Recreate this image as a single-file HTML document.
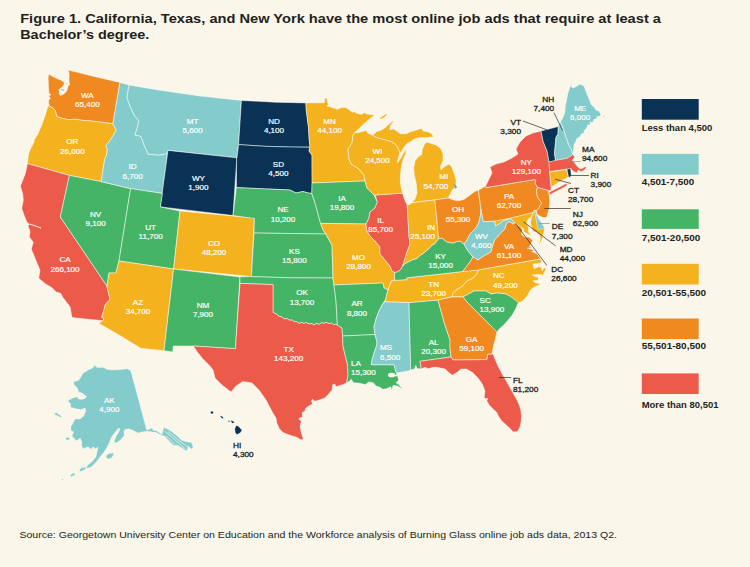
<!DOCTYPE html>
<html><head><meta charset="utf-8"><title>Figure 1</title>
<style>
html,body{margin:0;padding:0;background:#FAF6EA;}
body{width:750px;height:567px;overflow:hidden;position:relative;font-family:"Liberation Sans",sans-serif;}
svg{position:absolute;left:0;top:0;}
.st{stroke:#fff;stroke-width:0.5;stroke-linejoin:round;}
.wl{fill:#fff;stroke:#fff;stroke-width:0.16px;font-weight:normal;font-size:6.75px;font-family:"Liberation Sans",sans-serif;}
.dl{fill:#231f20;stroke:#231f20;stroke-width:0.28px;font-weight:normal;font-size:6.9px;font-family:"Liberation Sans",sans-serif;}
.ttl{fill:#231f20;font-weight:bold;font-size:12.9px;font-family:"Liberation Sans",sans-serif;}
.src{fill:#231f20;font-size:9.9px;font-family:"Liberation Sans",sans-serif;}
.lg{fill:#231f20;font-weight:bold;font-size:8.8px;font-family:"Liberation Sans",sans-serif;}
</style></head><body>
<svg width="750" height="567" viewBox="0 0 750 567">
<rect width="750" height="567" fill="#FAF6EA"/>
<text class="ttl" x="20.2" y="23.3" textLength="640.8" lengthAdjust="spacingAndGlyphs">Figure 1. California, Texas, and New York have the most online job ads that require at least a</text>
<text class="ttl" x="20.2" y="39.3" textLength="129.2" lengthAdjust="spacingAndGlyphs">Bachelor’s degree.</text>
<g class="st">
<polygon fill="#F08A20" points="48.5,73.9 51.9,76 56.9,78.5 61.2,80.2 64.2,82.3 64.2,84 62.9,86.6 60.3,88.3 58.6,90 59.5,91.2 59.1,93.8 60.3,95.5 62.9,94.6 65.4,92.5 67.1,90 68,85.7 69.7,84.9 68.8,79.8 69.2,74.7 68.4,70.1 94,76.4 120,82.4 112.9,123.8 102,122.3 91.3,121 82,120.3 75.3,119.2 68.7,119.7 62,118.3 56.7,116.3 55.3,110.3 52.7,107.7 48,105.7 49.3,105.2 48.5,103.5 48.9,99.3 50.6,98.4 48.5,95.9 51,94.6 48.9,93.4 48.5,87.4 48.1,79"/>
<polygon fill="#F4B21E" points="48,105.7 52.7,107.7 55.3,110.3 56.7,116.3 62,118.3 68.7,119.7 75.3,119.2 82,120.3 91.3,121 102,122.3 112.9,123.8 116.2,130.3 112.7,136.3 108.7,142.3 106,145.7 107.3,149.7 106.7,155 104.7,159 101.2,181.6 69.4,175.4 27.4,163.6 28,158 28.7,153.7 30.7,148.3 34.3,141.5 34,140.3 38,133.7 42,124.3 45.3,115"/>
<polygon fill="#EC5A4A" points="27.4,163.6 69.4,175.4 60.3,217 107,286 107.3,288 110,299.3 105.3,304.7 103.3,312 101.7,317.3 104,318.7 102.7,320.7 72,317.6 71.3,314 70,306.7 62.7,297.3 60.7,293.3 56,292 52,287.7 45.3,283.7 38.7,278.3 40,270.3 37.3,263.7 34,255.7 31.3,249 33.3,242.3 29.3,237 30,231.7 28,226 29.5,224.5 26.7,221.7 24,215 21.7,208.3 23.3,200.3 22.7,193.7 20.4,186.3 22.7,180.3 25.3,173.7"/>
<polygon fill="#46B466" points="69.4,175.4 101.2,181.6 130.6,188.6 119,261 116,273 109,273 107,286 60.3,217"/>
<polygon fill="#84CCCB" points="120,82.4 129,85 127,97.7 130.3,107 135,116.3 139,121 137,128.3 135,135 141,136.3 143.7,144.3 146.3,149.7 148,154 158,155 164,154.5 167.6,152.5 162.4,193.4 130.6,188.6 101.2,181.6 104.7,159 106.7,155 107.3,149.7 106,145.7 108.7,142.3 112.7,136.3 116.2,130.3 112.9,123.8"/>
<polygon fill="#84CCCB" points="129,85 160,90.2 200,96 241.4,100.4 238.6,144.6 237,157.8 168,150.4 167.6,152.5 164,154.5 158,155 148,154 146.3,149.7 143.7,144.3 141,136.3 135,135 137,128.3 139,121 135,116.3 130.3,107 127,97.7"/>
<polygon fill="#0A3254" points="168,150.4 236.8,157.8 233,215.5 160.3,206.9"/>
<polygon fill="#46B466" points="130.6,188.6 162.4,193.4 160.3,206.9 180,211 173.6,269 119,261"/>
<polygon fill="#F4B21E" points="180,211 254.4,218 251.4,276.6 173.6,269"/>
<polygon fill="#F4B21E" points="119,261 173.6,269 164,350.7 140.7,348.3 120.7,336 98.7,323.3 102.7,320.7 104,318.7 101.7,317.3 103.3,312 105.3,304.7 110,299.3 107.3,288 107,286 109,273 116,273"/>
<polygon fill="#46B466" points="173.6,269 240,277 235.4,348.7 193.3,346 173.3,346 172.7,352 164,350.7"/>
<polygon fill="#0A3254" points="241.4,100.4 275,102.2 305.8,102.9 306.4,111.3 307.5,119.9 308.5,127.3 309.1,138 310,147.2 290,147 265,146.3 238.6,144.6"/>
<polygon fill="#0A3254" points="238.6,144.6 265,146.3 290,147 310,147.2 309,151 312,155 312.3,182.5 311.8,193.5 308,192.9 303,191.5 296,193 290,190 236.4,187.6 236.6,158 237,157.8"/>
<polygon fill="#46B466" points="236.4,187.6 290,190 296,193 303,191.5 308,192.9 311.8,193.5 314.1,200 316.7,208.8 318.5,215.8 320.6,223.4 323,230 326,234 254,233 254.4,218.4 233,215.6"/>
<polygon fill="#46B466" points="254,233 326,234 329,240 332,245 333,278 290,277.8 251.4,276.6"/>
<polygon fill="#46B466" points="240,276.8 251.4,276.6 290,277.8 333,278 334,285 336,301 337.4,325 335.5,324.2 333.6,324.8 331.5,323 329,323.6 326.5,322.4 324,323.4 321.5,322.8 319,324.4 316.5,323.4 314,325 311.5,323.6 309,324.2 306.5,322.4 304,323.6 301.5,322.4 299,323.6 296.5,321.6 294,321.6 292,320 289.5,320.2 287,318.6 284,318.8 281.5,316.6 279,316.4 276.5,314.2 273,312.4 273,284.6 240,283.4"/>
<polygon fill="#EC5A4A" points="240,283.4 273,284.6 273,312.4 276.5,314.2 279,316.4 281.5,316.6 284,318.8 287,318.6 289.5,320.2 292,320 294,321.6 296.5,321.6 299,323.6 301.5,322.4 304,323.6 306.5,322.4 309,324.2 311.5,323.6 314,325 316.5,323.4 319,324.4 321.5,322.8 324,323.4 326.5,322.4 329,323.6 331.5,323 333.6,324.8 335.5,324.2 337.4,325 342,328 342.6,336 343,346 344.7,353.3 347.3,364 348,374.7 346.7,382.7 342.7,384.7 336,386.7 334.7,384 332.7,384.7 332,390 328.7,394 324.7,398 319.3,400 314.7,401.3 312.7,399.3 311.3,401.3 312.7,404 308.7,406 305.3,408.7 305.3,410.7 302,412.7 302.7,416.7 298.7,418.7 301.3,421.3 300,426 301.3,432.7 303.3,439.3 301.3,440 296.7,437.3 290,435.3 283.3,432.7 279.3,428.7 276.7,422.7 276,418 272.7,412.7 266,400 259,390 252,383 243,381.4 236,386 231,392 222,385 215,378 213,370 209.3,365.3 202.7,358.7 197.3,352 193.3,346 235.4,348.7"/>
<polygon fill="#F4B21E" points="305.8,102.9 324.5,102.8 324.7,98.3 326.7,98 328.3,104.9 326.9,106 330.9,107.1 337.3,109.2 341.6,107.6 345.9,107.6 349.1,109.7 352.3,112.4 353.3,111.3 357.6,113.5 361.9,114.5 364.5,112.4 366.7,114 374.9,115 370.4,118.3 366.1,122 361.9,125.7 358.1,129.5 354.4,132.7 353.7,134.6 353,135 352,143 348,149 349,159 351,164 359,169 364,175 365,181 312,183 312,155 309,151 310,147.2 309.1,138 308.5,127.3 307.5,119.9 306.4,111.3"/>
<polygon fill="#46B466" points="312,183 365,181 367,188 374,195 377.4,202 375,208 370,212 369,218 366,224 320.6,223.4 318.5,215.8 316.7,208.8 314.1,200 311.8,193.5"/>
<polygon fill="#F4B21E" points="320.6,223.4 366,224 366.6,230 370,236 375,241 380,247 380,254 385,260 390,266 392,271 394.5,272.4 394.7,280.4 391.3,281.3 388,290 384,288 383,283 334,285 333,278 332,245 329,240 326,234 323,230"/>
<polygon fill="#46B466" points="334,285 383,283 384,288 388,290 385.6,299.3 382,305 379,311 376,319 374,327 375,334.5 342.6,336 342,328 337.4,325 336,301"/>
<polygon fill="#46B466" points="342.6,336 375,334.5 377,342 376.7,345.3 374,353.3 372,360 371.3,364.7 394,364.7 396,372 396.5,373 398,377.3 398.7,380 396,382.7 398.7,384.7 403.3,389.3 397.3,386 393.3,385.3 391.3,390 390.7,386.7 386.7,388.7 382.7,389.3 380,387.3 376,386 373.3,382.7 368.7,382 365.3,384.7 360,383.3 353.3,382.7 351.3,379.3 349,381.5 346.7,382.7 348,374.7 347.3,364 344.7,353.3 343,346"/>
<polygon fill="#84CCCB" points="385.3,301.6 409,302.5 410.6,365 410.7,370 409.3,370.7 402.7,372 396.5,373 396,372 394,364.7 371.3,364.7 372,360 374,353.3 376.7,345.3 377,342 375,334.5 374,327 376,319 379,311 382,305"/>
<polygon fill="#46B466" points="409,302.5 438,300 444,322 450,340 450,348 451,357 420,361.3 421.3,368.7 417.3,368.7 415.7,365.3 414.7,368.7 410.7,370 410.6,365"/>
<polygon fill="#F4B21E" points="391.3,281.3 394.7,280.4 406.7,279.6 406.7,277.8 445,273.6 462.7,271.5 478.7,270 476,275.3 472,278.7 466.7,281.3 462.7,286 457.3,289.3 453.3,292.7 452,296.7 438,300 409,302.5 385.3,301.6 385.6,299.3 388,290"/>
<polygon fill="#46B466" points="394.5,272.4 397.3,271.8 400.5,269.6 402.6,266 405,263.5 409,261.5 413,259.5 417,258.5 420,255.5 423,253.5 426,251 429,248.5 432,245 435,243.5 438.6,238.5 442,238 445,240.5 447,242 453,243 457,241.5 460,241 464,244 465,246 468,251 473,257 470,262 462.7,271.5 445,273.6 406.7,277.8 406.7,279.6 394.7,280.4"/>
<polygon fill="#EC5A4A" points="375,195 402.5,193.2 404.6,199.7 407.2,205 409,236 410,244 407,252 404.6,260 402.6,266 400.5,269.6 397.3,271.8 394.5,272.4 392,271 390,266 385,260 380,254 380,247 375,241 370,236 366.6,230 366,224 369,218 370,212 375,208 377.4,202"/>
<polygon fill="#F4B21E" points="353.7,134.6 354.4,132.7 357.6,132.7 364,131.1 366.7,130.3 367.7,133.2 372.4,135 377,137.7 385,139.7 391.7,141.7 396.3,145 399,149.7 399.7,153.7 398.3,158.3 397.4,162.8 401,157.7 404.3,151.7 406.4,148.4 405.7,153.7 403.7,158.3 402,163.7 401,169 400.5,175 400.3,180.7 400.9,186 402.5,193.2 375,195 374,195 367,188 365,181 364,175 359,169 351,164 349,159 348,149 352,143 353,135"/>
<polygon fill="#F4B21E" points="372.4,135 374.7,133.5 376.3,131.7 381,130.3 385,127.7 388,125 392.6,121 393.4,121.6 390.5,125.5 389.7,129.7 393.7,129 397.7,131.7 400.3,133.7 406.3,133.7 410.3,131.7 415.7,130.3 421.7,128.3 423,131 427.7,131.7 431.7,133.7 433.7,137 430.3,137 425,137.7 419.7,137.7 414.3,139 411,141.7 407.7,143 405.7,145 403.7,147.7 401.7,151 399.7,153.7 399,149.7 396.3,145 391.7,141.7 385,139.7 377,137.7 372.4,135"/>
<polygon fill="#F4B21E" points="426.3,142 431,143.3 436.3,145.3 441,148.7 443,154 443,160.7 440.3,166.7 441,170 444.3,166.7 449,164 451.7,166.7 454.3,174 456.3,180.7 455.7,186 452.3,190 450.3,194 448.3,198 434.3,200 411.7,202.7 415,199.3 417,192.7 416.3,183.3 414.3,175.3 413.7,168.7 415,160.7 419,156 421.7,154.7 422.3,149.3 424.3,144.7"/>
<polygon fill="#F4B21E" points="379.8,118.2 383,115.8 386.4,113.8 387.2,115 383.8,117.8 380.6,119.6"/>
<polygon fill="#F4B21E" points="407.2,205 409.9,204.5 411.7,202.7 434.3,200 435,201 438.6,238.5 435,243.5 432,245 429,248.5 426,251 423,253.5 420,255.5 417,258.5 413,259.5 409,261.5 405,263.5 402.6,266 404.6,260 407,252 410,244 409,236"/>
<polygon fill="#F08A20" points="435,201 434.3,200 448.3,198 453.7,200 459,200.7 464.3,199.3 469.7,195.3 475,191.3 478.4,190.2 480.9,209.4 480.7,213.8 479.7,219.1 478.3,224 475,229 470,234 467,240 464,244 460,241 457,241.5 453,243 447,242 445,240.5 442,238 438.6,238.5"/>
<polygon fill="#F08A20" points="478.4,190.2 485.7,186 486,187.6 510,183.6 535,179.5 536,180.5 535,183 537.5,187.2 536.5,191 537,195 538,198 540,200.5 542,203.5 540.3,205 538.7,208.6 536.3,210.3 534.3,210.3 533.2,212.5 511,218.1 494.5,221.2 483.2,221.8 480.9,209"/>
<polygon fill="#F08A20" stroke-width="0.5" points="537.5,187.2 548.5,190.5 549,194 549.5,198 549.8,201 549.4,205 549,209 547.9,212.9 547.1,216.5 545.5,217.7 542.3,217.3 539.1,215.7 536.7,213.7 536.3,210.3 538.7,208.6 540.3,205 542,203.5 540,200.5 538,198 537,195 536.5,191"/>
<polygon fill="#EC5A4A" points="541,131 533,133 526,136 520,142 516,149 518,154 512,158 504,162 496,164 490,167 492,173 489,179 485.7,186 486,187.6 510,183.6 535,179.5 536,180.5 535,183 537.5,187.2 548.5,190.5 550.5,191 551.2,187.5 550.5,180 549.6,171.5 549,162 547,151 543,141"/>
<polygon fill="#EC5A4A" points="549.3,192.2 555,189.2 561,186.2 564.5,184.2 567.3,183.6 567,185.6 562,188.4 556,191.4 549.3,195"/>
<polygon fill="#0A3254" stroke-width="0.5" points="541,131 558.4,126.5 558,134 556,137.3 555.3,145 554.5,153 555.5,160.5 549,162 547,151 543,141"/>
<polygon fill="#84CCCB" stroke-width="0.5" points="558.4,126.5 560.5,121.3 563.3,128.7 566,136.7 568.7,144.7 571.5,150 573,154.5 571,156 567,158.5 555.5,160.5 554.5,153 555.3,145 556,137.3 558,134"/>
<polygon fill="#84CCCB" points="560.5,121.3 562.7,118 564.7,112.7 565.3,106 566.7,99.3 568,92.7 570.7,85.3 572.7,88 576,86.7 580,84 584,86 586,91.3 588.7,98 591.3,104.7 594,106.7 596,110 599.3,111.3 600.9,114.7 600,116.2 596.7,116.7 597.3,118.7 594,119.3 592.7,122.7 590,122 590.7,125.3 588,124.7 586.7,128 584,130.7 584.7,132.7 581.3,134 580,136.7 576.7,138.7 576,141.3 574,144.7 573.5,150 573,154.5 571.5,150 568.7,144.7 566,136.7 563.3,128.7"/>
<polygon fill="#EC5A4A" stroke-width="0.3" points="549,162 555.5,160.5 567,158.5 571,156 573,154.5 574,156 574.5,157.5 572,160 574,162 576,165 579,168.2 581,169 585.2,166.8 586.2,167.8 583.5,170.6 580.5,171.8 579.6,170.6 578,170 577,172.4 574,171.8 572,170 571,168.5 567,169 549.6,171.5"/>
<polygon fill="#F4B21E" stroke-width="0.5" points="549.7,172 566.5,169.5 568.5,177 563,180 557.5,183 553,186 551.2,187.5 550.5,180"/>
<polygon fill="#F4B21E" stroke-width="0.35" points="494.5,221.2 505,219.3 511,218.1 533.2,212.5 532.4,213.7 531.2,216.9 528.8,218.5 527.2,220.5 526.6,223.5 528,226.4 528.8,228.8 528,230.4 528.8,232.8 531.2,235.6 528.8,234.8 525.6,232.8 523.7,231.6 523.7,228.8 520.9,226.8 516.9,224.8 514.5,222.9 512.9,220.9 511,218.8 505.5,219.9 503,221 500,223.5 495.5,226"/>
<polygon fill="#F4B21E" stroke-width="0.35" points="533.2,212.5 534.3,210.3 536,218 537.9,229.2 544.5,228.4 543.6,233 541.8,239.7 540.6,242.5 538.9,244.9 540.6,238.5 539.7,234.9 537.1,232.7 532.7,231.3 532.2,228.2 530.5,223.4 531.2,219.3 532.4,215.3"/>
<polygon fill="#84CCCB" points="480.9,209 483.2,221.8 494.5,221.2 495.5,226 500,223.5 503,221 505.5,219.9 511,218.8 512.9,220.9 514.5,222.9 512.9,224 511.3,222.9 509,221.7 507,222.9 505.8,225.6 505,228.8 501,233 497.5,237 495,239 493,245 491,252 484,256 478,260 473,257 468,251 465,246 464,244 467,240 470,234 475,229 478.3,224 479.7,219.1 480.7,213.8"/>
<polygon fill="#F08A20" points="514.5,222.9 516.9,224.8 520.9,226.8 522.5,230.4 521.2,234 524.7,237.1 529.1,237.1 532.7,240.6 530.9,244.1 529.3,246.6 532.4,247.6 527.5,248.3 532,249.6 535.3,250.3 531.8,251.6 537.1,253.8 539.7,257.4 540.6,259 478.7,270 462.7,271.5 470,262 473,257 478,260 484,256 491,252 493,245 495,239 497.5,237 501,233 505,228.8 505.8,225.6 507,222.9 509,221.7 511.3,222.9 512.9,224"/>
<polygon fill="#F4B21E" points="478.7,270 540.6,259 541.6,261.8 540.4,262.9 536.5,263.4 533.3,264.1 533.4,266.5 534.4,268.5 536.5,267.5 538.5,266.7 541,267 541.9,268.3 542.2,270.8 543.5,268.3 545.3,267.7 545.9,269.5 544.7,271.7 543.8,273.5 542.8,275.4 540.4,274.5 536,274.6 532.3,275 535,276.6 537.9,277 538.5,278.5 537.9,280.2 535.5,280.4 533.1,281 535,282.5 536.7,283 540.4,283.4 538.5,285.2 535.4,286.5 532.3,288.6 530.5,290 527.1,296.3 521.6,301.8 518.4,302.6 506,294 497,293 491,294 486,291 474,291 463,297 452,296.7 453.3,292.7 457.3,289.3 462.7,286 466.7,281.3 472,278.7 476,275.3"/>
<polygon fill="#46B466" points="463,297 474,291 486,291 491,294 497,293 506,294 511.3,297.1 518.4,302.6 515.2,309.8 512.1,315.3 508.1,320.1 504.1,324.8 499.4,328.8 496.6,332.8 489,324 482,317 474,309 467,302"/>
<polygon fill="#F08A20" points="438,300 452,297 463,297 467,302 474,309 482,317 489,324 497,332 495,340 493,348 492,354 487.6,354.4 487,359.6 453,360 451,357 450,348 450,340 444,322"/>
<polygon fill="#EC5A4A" points="420,361.3 451,357 453,360 487,359.6 487.6,354.4 493,354 495.5,360 498.2,366.5 502.5,374.5 507,382.3 510.5,388.5 514,394.7 517,400 519.4,405.3 520.9,410.5 521.5,415.8 521.2,421 520.2,426.4 518.8,429.6 516.7,431.7 513.2,431.9 507.9,426.4 501.7,421.1 498.2,415.8 496.8,412.5 493.8,409.7 489.4,405.3 486.7,400.8 487.8,398.4 485.6,398.8 484.1,397.3 485,391.1 482.3,384.1 477.9,377.9 472.6,372.6 466.5,369.1 461.2,369.1 456.8,372.6 452.3,375.3 448.8,372.6 445.3,369.1 440,368 437,367.3 433.3,367.3 428,368.7 425.3,367.3 421.3,368.7"/>
<polygon fill="#84CCCB" stroke-width="0.25" points="94.8,365.3 96.9,367.5 103.3,367.5 107.6,369.6 114,370.1 122.5,369.6 127,368.8 130.7,370.7 141.3,410 146.7,430.3 152,428.1 153.1,430.3 156.3,430.8 159.5,432.9 162.1,434.6 162.7,431.9 163.7,427.6 166.9,428.7 171.2,431.3 176.5,435.6 181.9,440.4 187.2,442 191.5,442.5 193.1,447.3 191.5,448.9 188.3,446.3 186.7,451.1 181.9,447.9 177.6,445.2 173.3,445.2 170.1,442 166.9,438.8 164.8,436.1 162.1,435.6 159,434 156,432.2 152.5,432 150.9,431.6 146.7,431.2 141.3,431.9 138.1,432.9 134.9,431.3 131.7,429.7 128.5,428.7 125.3,429.2 123.9,431.3 124.3,435.6 120.1,440.3 115.8,442.9 114.2,441.3 116.3,436 119,431.7 120,428.2 118.2,428.6 114.7,432.8 111.5,437.1 109.4,442.4 107.3,446.7 104.1,452 99.8,457.3 95.5,462.7 91.3,466.9 87,468.2 86.5,466.9 88.1,464.8 92.3,461.6 96.1,456.8 97.1,452 98.2,446.7 95.5,448.8 92.9,446.7 91.3,449.3 88.1,446.7 83.3,448.8 81.7,445.6 81.7,441.3 80.1,438.1 76.3,440.8 72.1,436 73.7,431.7 71,430.7 71,426.4 74.7,420 75.6,418.7 79.9,419.2 84.1,415.5 85.7,411.2 85.2,408 80.9,409.6 75.1,408.5 70.3,406.9 70.8,403.7 67.6,401.1 72.9,397.9 77.7,396.8 78.3,398.9 80.9,399.5 84.1,398.9 86.8,396.8 82,393.1 78.8,392 77.2,387.7 74,384.5 73.5,381.9 78.8,380.3 80.9,377.1 83.1,373.3 88.4,370.1 92.7,368"/>
<polygon fill="#84CCCB" stroke-width="0.25" points="54.3,413.2 56.5,412.8 59,414.5 61.7,416.5 61,417.3 58,416 55,414.6"/>
<polygon fill="#84CCCB" stroke-width="0.25" points="65.2,438 67.5,437.2 69.8,438.2 69.3,439.8 66.5,440"/>
<polygon fill="#84CCCB" stroke-width="0.25" points="106.3,455.5 108.5,453.8 111,453.2 113.6,452.8 113.2,455.5 111,458.2 108,459 106.5,457.5"/>
<polygon fill="#84CCCB" stroke-width="0.25" points="79.5,469.5 82,467.8 86,467.2 85.5,469 82.5,470.8 80,471.8"/>
<polygon fill="#84CCCB" stroke-width="0.25" points="70,475.3 72.5,473.6 75.3,473.3 74.5,475.2 71.5,476.6"/>
<polygon fill="#84CCCB" stroke-width="0.25" points="61.2,479.5 63,478.6 63.4,479.6 61.8,480.2"/>
<polygon fill="#0A3254" stroke-width="0.2" points="210.6,411.4 212.8,411.2 213.6,413 211.8,414 210.6,413"/>
<polygon fill="#0A3254" stroke-width="0.2" points="220.2,415.8 222,416.2 223.8,418.2 222.4,418.6 220.6,417"/>
<polygon fill="#0A3254" stroke-width="0.2" points="228,420.8 229.8,420.8 229.6,421.8 228.2,421.8"/>
<polygon fill="#0A3254" stroke-width="0.2" points="231,420.6 233,421 234.4,422.8 232.6,423.2 231.2,422"/>
<polygon fill="#0A3254" stroke-width="0.2" points="236.4,425.6 238.6,426.4 241.9,430.2 240.2,432.8 237,434.6 235.4,432.8 234.8,428.8"/>
<polygon fill="#84CCCB" stroke-width="0.2" points="534.3,210.3 535.6,210.3 536.3,214.5 538.3,218.5 541.1,222.5 543.1,225.6 544.5,228.4 537.9,229.2 536,218"/>
<polygon fill="#0A3254" stroke-width="0.4" points="567,169.3 570.5,168.5 571.2,174.5 570,177.5 568.5,177"/>
</g>
<path d="M61,89.6 L63.2,89 L63.8,90.4 L62,90.6 Z M65.6,84.2 L66.4,83.6 L66.6,84.6 Z" fill="#94a7b4"/>
<ellipse cx="391.6" cy="375" rx="3.6" ry="2.3" fill="#FAF6EA"/><path d="M394,375.5 L397.5,375.5" stroke="#FAF6EA" stroke-width="1.6" fill="none"/>
<polygon points="453.2,184 454.8,184.3 456.9,186.6 456.4,188 454.2,188.8 454.8,186.6" fill="#8a9aa6"/>
<path d="M164.5,431 L178,442.5 L185.5,449 M168,431.5 L180,441.5 L189,447.5 M166,436 L175,444.2" stroke="#FAF6EA" stroke-width="0.7" fill="none"/>
<circle cx="604" cy="116.2" r="0.55" fill="#84CCCB"/>
<path d="M29.5,224 L34,225.5 L41,228" stroke="#FAF6EA" stroke-width="1" fill="none"/>
<text class="wl" text-anchor="middle" transform="translate(87.3,98.2) scale(1.2,1)">WA</text>
<text class="wl" text-anchor="middle" transform="translate(87.3,107.1) scale(1.2,1)">65,400</text>
<text class="wl" text-anchor="middle" transform="translate(72.4,144.4) scale(1.2,1)">OR</text>
<text class="wl" text-anchor="middle" transform="translate(72.4,153.7) scale(1.2,1)">26,000</text>
<text class="wl" text-anchor="middle" transform="translate(132.6,169) scale(1.2,1)">ID</text>
<text class="wl" text-anchor="middle" transform="translate(132.6,178.5) scale(1.2,1)">6,700</text>
<text class="wl" text-anchor="middle" transform="translate(95.6,216.6) scale(1.2,1)">NV</text>
<text class="wl" text-anchor="middle" transform="translate(95.6,226.1) scale(1.2,1)">9,100</text>
<text class="wl" text-anchor="middle" transform="translate(65,262.2) scale(1.2,1)">CA</text>
<text class="wl" text-anchor="middle" transform="translate(65,271.5) scale(1.2,1)">266,100</text>
<text class="wl" text-anchor="middle" transform="translate(150.6,230) scale(1.2,1)">UT</text>
<text class="wl" text-anchor="middle" transform="translate(150.6,239.1) scale(1.2,1)">11,700</text>
<text class="wl" text-anchor="middle" transform="translate(214,245.6) scale(1.2,1)">CO</text>
<text class="wl" text-anchor="middle" transform="translate(214,254.7) scale(1.2,1)">48,200</text>
<text class="wl" text-anchor="middle" transform="translate(198.4,180.6) scale(1.2,1)">WY</text>
<text class="wl" text-anchor="middle" transform="translate(198.4,190.1) scale(1.2,1)">1,900</text>
<text class="wl" text-anchor="middle" transform="translate(278.4,167) scale(1.2,1)">SD</text>
<text class="wl" text-anchor="middle" transform="translate(278.4,176.1) scale(1.2,1)">4,500</text>
<text class="wl" text-anchor="middle" transform="translate(283,212.2) scale(1.2,1)">NE</text>
<text class="wl" text-anchor="middle" transform="translate(283,221.5) scale(1.2,1)">10,200</text>
<text class="wl" text-anchor="middle" transform="translate(192.6,124) scale(1.2,1)">MT</text>
<text class="wl" text-anchor="middle" transform="translate(192.6,132.9) scale(1.2,1)">5,600</text>
<text class="wl" text-anchor="middle" transform="translate(274,123.6) scale(1.2,1)">ND</text>
<text class="wl" text-anchor="middle" transform="translate(274,132.9) scale(1.2,1)">4,100</text>
<text class="wl" text-anchor="middle" transform="translate(329.6,124) scale(1.2,1)">MN</text>
<text class="wl" text-anchor="middle" transform="translate(329.6,133.1) scale(1.2,1)">44,100</text>
<text class="wl" text-anchor="middle" transform="translate(377.5,153.6) scale(1.2,1)">WI</text>
<text class="wl" text-anchor="middle" transform="translate(377.5,163.1) scale(1.2,1)">24,500</text>
<text class="wl" text-anchor="end" transform="translate(448.3,179) scale(1.2,1)">MI</text>
<text class="wl" text-anchor="end" transform="translate(448.3,188.5) scale(1.2,1)">54,700</text>
<text class="wl" text-anchor="middle" transform="translate(342,200.6) scale(1.2,1)">IA</text>
<text class="wl" text-anchor="middle" transform="translate(342,209.9) scale(1.2,1)">19,800</text>
<text class="wl" text-anchor="middle" transform="translate(380.6,222.6) scale(1.2,1)">IL</text>
<text class="wl" text-anchor="middle" transform="translate(380.6,231.9) scale(1.2,1)">85,700</text>
<text class="wl" text-anchor="end" transform="translate(435,230) scale(1.2,1)">IN</text>
<text class="wl" text-anchor="end" transform="translate(435,239.1) scale(1.2,1)">25,100</text>
<text class="wl" text-anchor="middle" transform="translate(358.6,259.6) scale(1.2,1)">MO</text>
<text class="wl" text-anchor="middle" transform="translate(358.6,268.9) scale(1.2,1)">28,800</text>
<text class="wl" text-anchor="middle" transform="translate(294.4,253.6) scale(1.2,1)">KS</text>
<text class="wl" text-anchor="middle" transform="translate(294.4,262.9) scale(1.2,1)">15,800</text>
<text class="wl" text-anchor="middle" transform="translate(440.6,259.2) scale(1.2,1)">KY</text>
<text class="wl" text-anchor="middle" transform="translate(440.6,268.1) scale(1.2,1)">15,000</text>
<text class="wl" text-anchor="middle" transform="translate(458,211.8) scale(1.2,1)">OH</text>
<text class="wl" text-anchor="middle" transform="translate(458,221.9) scale(1.2,1)">55,300</text>
<text class="wl" text-anchor="middle" transform="translate(509,198.6) scale(1.2,1)">PA</text>
<text class="wl" text-anchor="middle" transform="translate(509,207.9) scale(1.2,1)">62,700</text>
<text class="wl" text-anchor="middle" transform="translate(481.4,239) scale(1.2,1)">WV</text>
<text class="wl" text-anchor="middle" transform="translate(481.4,247.9) scale(1.2,1)">4,600</text>
<text class="wl" text-anchor="middle" transform="translate(509,249) scale(1.2,1)">VA</text>
<text class="wl" text-anchor="middle" transform="translate(509,258.1) scale(1.2,1)">61,100</text>
<text class="wl" text-anchor="start" transform="translate(493,278) scale(1.2,1)">NC</text>
<text class="wl" text-anchor="start" transform="translate(493,288) scale(1.2,1)">49,200</text>
<text class="wl" text-anchor="middle" transform="translate(433.6,286.6) scale(1.2,1)">TN</text>
<text class="wl" text-anchor="middle" transform="translate(433.6,295.5) scale(1.2,1)">23,700</text>
<text class="wl" text-anchor="start" transform="translate(479.6,302.6) scale(1.2,1)">SC</text>
<text class="wl" text-anchor="start" transform="translate(479.6,311.5) scale(1.2,1)">13,900</text>
<text class="wl" text-anchor="middle" transform="translate(471.6,341.6) scale(1.2,1)">GA</text>
<text class="wl" text-anchor="middle" transform="translate(471.6,350.5) scale(1.2,1)">59,100</text>
<text class="wl" text-anchor="middle" transform="translate(433.6,345) scale(1.2,1)">AL</text>
<text class="wl" text-anchor="middle" transform="translate(433.6,354.1) scale(1.2,1)">20,300</text>
<text class="wl" text-anchor="start" transform="translate(380,350) scale(1.2,1)">MS</text>
<text class="wl" text-anchor="start" transform="translate(380,359.5) scale(1.2,1)">6,500</text>
<text class="wl" text-anchor="middle" transform="translate(357,306.2) scale(1.2,1)">AR</text>
<text class="wl" text-anchor="middle" transform="translate(357,315.5) scale(1.2,1)">8,800</text>
<text class="wl" text-anchor="start" transform="translate(351,365.6) scale(1.2,1)">LA</text>
<text class="wl" text-anchor="start" transform="translate(351,375.1) scale(1.2,1)">15,300</text>
<text class="wl" text-anchor="middle" transform="translate(302,295) scale(1.2,1)">OK</text>
<text class="wl" text-anchor="middle" transform="translate(302,304.5) scale(1.2,1)">13,700</text>
<text class="wl" text-anchor="middle" transform="translate(288.6,351.6) scale(1.2,1)">TX</text>
<text class="wl" text-anchor="middle" transform="translate(288.6,361.1) scale(1.2,1)">143,200</text>
<text class="wl" text-anchor="middle" transform="translate(203,307.6) scale(1.2,1)">NM</text>
<text class="wl" text-anchor="middle" transform="translate(203,316.9) scale(1.2,1)">7,900</text>
<text class="wl" text-anchor="middle" transform="translate(138,305) scale(1.2,1)">AZ</text>
<text class="wl" text-anchor="middle" transform="translate(138,314.1) scale(1.2,1)">34,700</text>
<text class="wl" text-anchor="middle" transform="translate(526.4,164.6) scale(1.2,1)">NY</text>
<text class="wl" text-anchor="middle" transform="translate(526.4,173.9) scale(1.2,1)">129,100</text>
<text class="wl" text-anchor="middle" transform="translate(580.2,110.8) scale(1.2,1)">ME</text>
<text class="wl" text-anchor="middle" transform="translate(580.2,119.7) scale(1.2,1)">6,000</text>
<text class="wl" text-anchor="middle" transform="translate(109.3,402.7) scale(1.2,1)">AK</text>
<text class="wl" text-anchor="middle" transform="translate(109.3,412) scale(1.2,1)">4,900</text>
<text class="dl" text-anchor="start" transform="translate(513,382.9) scale(1.2,1)">FL</text>
<text class="dl" text-anchor="start" transform="translate(513,392) scale(1.2,1)">81,200</text>
<text class="dl" text-anchor="start" transform="translate(233,447.7) scale(1.2,1)">HI</text>
<text class="dl" text-anchor="start" transform="translate(233,456.9) scale(1.2,1)">4,300</text>
<text class="dl" text-anchor="end" transform="translate(554.2,102.2) scale(1.2,1)">NH</text>
<text class="dl" text-anchor="end" transform="translate(554.2,111.2) scale(1.2,1)">7,400</text>
<text class="dl" text-anchor="end" transform="translate(521,125) scale(1.2,1)">VT</text>
<text class="dl" text-anchor="end" transform="translate(521,134.1) scale(1.2,1)">3,300</text>
<text class="dl" text-anchor="start" transform="translate(582,152.4) scale(1.2,1)">MA</text>
<text class="dl" text-anchor="start" transform="translate(582,161.2) scale(1.2,1)">94,600</text>
<text class="dl" text-anchor="start" transform="translate(590.6,177.9) scale(1.2,1)">RI</text>
<text class="dl" text-anchor="start" transform="translate(590.6,187) scale(1.2,1)">3,900</text>
<text class="dl" text-anchor="start" transform="translate(568,193) scale(1.2,1)">CT</text>
<text class="dl" text-anchor="start" transform="translate(568,202.1) scale(1.2,1)">28,700</text>
<text class="dl" text-anchor="start" transform="translate(572.8,216.9) scale(1.2,1)">NJ</text>
<text class="dl" text-anchor="start" transform="translate(572.8,226.1) scale(1.2,1)">62,900</text>
<text class="dl" text-anchor="start" transform="translate(551.8,229) scale(1.2,1)">DE</text>
<text class="dl" text-anchor="start" transform="translate(551.8,238.6) scale(1.2,1)">7,300</text>
<text class="dl" text-anchor="start" transform="translate(559.7,251.6) scale(1.2,1)">MD</text>
<text class="dl" text-anchor="start" transform="translate(559.7,260.8) scale(1.2,1)">44,000</text>
<text class="dl" text-anchor="start" transform="translate(551.3,272.2) scale(1.2,1)">DC</text>
<text class="dl" text-anchor="start" transform="translate(551.3,281.4) scale(1.2,1)">26,600</text>
<line x1="499" y1="377.5" x2="511" y2="377.5" stroke="#2a2a2a" stroke-width="0.7"/>
<line x1="554" y1="112.7" x2="562.7" y2="130.7" stroke="#2a2a2a" stroke-width="0.7"/>
<line x1="523" y1="121" x2="547.3" y2="130" stroke="#2a2a2a" stroke-width="0.7"/>
<line x1="567" y1="161.5" x2="581" y2="161.5" stroke="#9a8f86" stroke-width="0.7"/>
<line x1="570" y1="175.5" x2="589" y2="175.5" stroke="#2a2a2a" stroke-width="0.7"/>
<line x1="555" y1="179.2" x2="571" y2="183.5" stroke="#2a2a2a" stroke-width="0.7"/>
<line x1="544.3" y1="208.5" x2="570.8" y2="208.5" stroke="#2a2a2a" stroke-width="0.7"/>
<line x1="539.3" y1="223.5" x2="549.8" y2="223.5" stroke="#6d8fa8" stroke-width="0.7"/>
<line x1="523.4" y1="221.8" x2="555.7" y2="245.8" stroke="#2a2a2a" stroke-width="0.7"/>
<line x1="515.5" y1="223.5" x2="546.8" y2="265.4" stroke="#2a2a2a" stroke-width="0.7"/>
<rect x="641.8" y="99" width="56.9" height="20.7" fill="#0A3254"/>
<text class="lg" x="641.7" y="131.4" textLength="70.6" lengthAdjust="spacingAndGlyphs">Less than 4,500</text>
<rect x="641.8" y="153.9" width="56.9" height="20.8" fill="#84CCCB"/>
<text class="lg" x="641.7" y="185.3" textLength="52.6" lengthAdjust="spacingAndGlyphs">4,501-7,500</text>
<rect x="641.8" y="209.3" width="56.9" height="19.6" fill="#46B466"/>
<text class="lg" x="641.7" y="241.2" textLength="58.6" lengthAdjust="spacingAndGlyphs">7,501-20,500</text>
<rect x="641.8" y="263.8" width="56.9" height="20.7" fill="#F4B21E"/>
<text class="lg" x="641.7" y="296.3" textLength="64.4" lengthAdjust="spacingAndGlyphs">20,501-55,500</text>
<rect x="641.8" y="318.5" width="56.9" height="20.6" fill="#F08A20"/>
<text class="lg" x="641.7" y="349.2" textLength="64.4" lengthAdjust="spacingAndGlyphs">55,501-80,500</text>
<rect x="641.8" y="373.4" width="56.9" height="20.6" fill="#EC5A4A"/>
<text class="lg" x="641.7" y="407.8" textLength="76.8" lengthAdjust="spacingAndGlyphs">More than 80,501</text>
<text class="src" x="19.4" y="538.3" textLength="597.6" lengthAdjust="spacingAndGlyphs">Source: Georgetown University Center on Education and the Workforce analysis of Burning Glass online job ads data, 2013 Q2.</text>
</svg></body></html>
